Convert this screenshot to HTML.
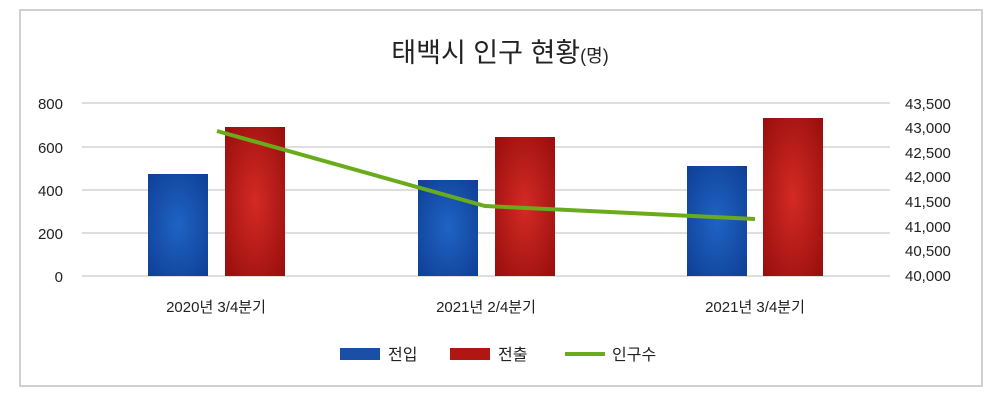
<!DOCTYPE html>
<html><head><meta charset="utf-8"><style>
html,body{margin:0;padding:0;background:#fff;}
svg{display:block;font-family:"Liberation Sans","Noto Sans CJK KR",sans-serif;}
</style></head><body>
<svg width="1000" height="402" viewBox="0 0 1000 402">
<defs>
<radialGradient id="b" cx="0.5" cy="0.5" r="0.8"><stop offset="0" stop-color="#1f63c4"/><stop offset="1" stop-color="#0c3a8e"/></radialGradient>
<radialGradient id="r" cx="0.5" cy="0.5" r="0.8"><stop offset="0" stop-color="#d42a25"/><stop offset="1" stop-color="#8e0a08"/></radialGradient>
</defs>
<rect x="20" y="10" width="962" height="376" fill="#fff" stroke="#d0d0d0" stroke-width="2"/>
<text x="500" y="62" font-size="27" text-anchor="middle" fill="#222">태백시 인구 현황<tspan font-size="18">(명)</tspan></text>
<g stroke="#d4d4d4" stroke-width="1.5">
<line x1="82" y1="103" x2="890" y2="103"/><line x1="82" y1="147" x2="890" y2="147"/>
<line x1="82" y1="190" x2="890" y2="190"/><line x1="82" y1="233" x2="890" y2="233"/>
<line x1="82" y1="276" x2="890" y2="276"/>
</g>
<g font-size="15" fill="#222" text-anchor="end">
<text x="63" y="109">800</text><text x="63" y="153">600</text><text x="63" y="196">400</text><text x="63" y="239">200</text><text x="63" y="282">0</text>
</g>
<g font-size="15" fill="#222">
<text x="905" y="109">43,500</text><text x="905" y="133">43,000</text><text x="905" y="158">42,500</text><text x="905" y="182">42,000</text><text x="905" y="207">41,500</text><text x="905" y="232">41,000</text><text x="905" y="256">40,500</text><text x="905" y="281">40,000</text>
</g>
<rect x="148" y="174" width="60" height="102" fill="url(#b)"/>
<rect x="225" y="127" width="60" height="149" fill="url(#r)"/>
<rect x="418" y="180" width="60" height="96" fill="url(#b)"/>
<rect x="495" y="137" width="60" height="139" fill="url(#r)"/>
<rect x="687" y="166" width="60" height="110" fill="url(#b)"/>
<rect x="763" y="118" width="60" height="158" fill="url(#r)"/>
<polyline points="217,131 485,206 755,219" fill="none" stroke="#6aab1c" stroke-width="4"/>
<g font-size="15" fill="#222" text-anchor="middle">
<text x="216" y="312">2020년 3/4분기</text><text x="486" y="312">2021년 2/4분기</text><text x="755" y="312">2021년 3/4분기</text>
</g>
<rect x="340" y="348" width="40" height="12" fill="#1a4fa8"/>
<text x="388" y="360" font-size="16" fill="#222">전입</text>
<rect x="450" y="348" width="40" height="12" fill="#b01612"/>
<text x="498" y="360" font-size="16" fill="#222">전출</text>
<line x1="565" y1="354" x2="605" y2="354" stroke="#6aab1c" stroke-width="4"/>
<text x="612" y="360" font-size="16" fill="#222">인구수</text>
</svg>
</body></html>
